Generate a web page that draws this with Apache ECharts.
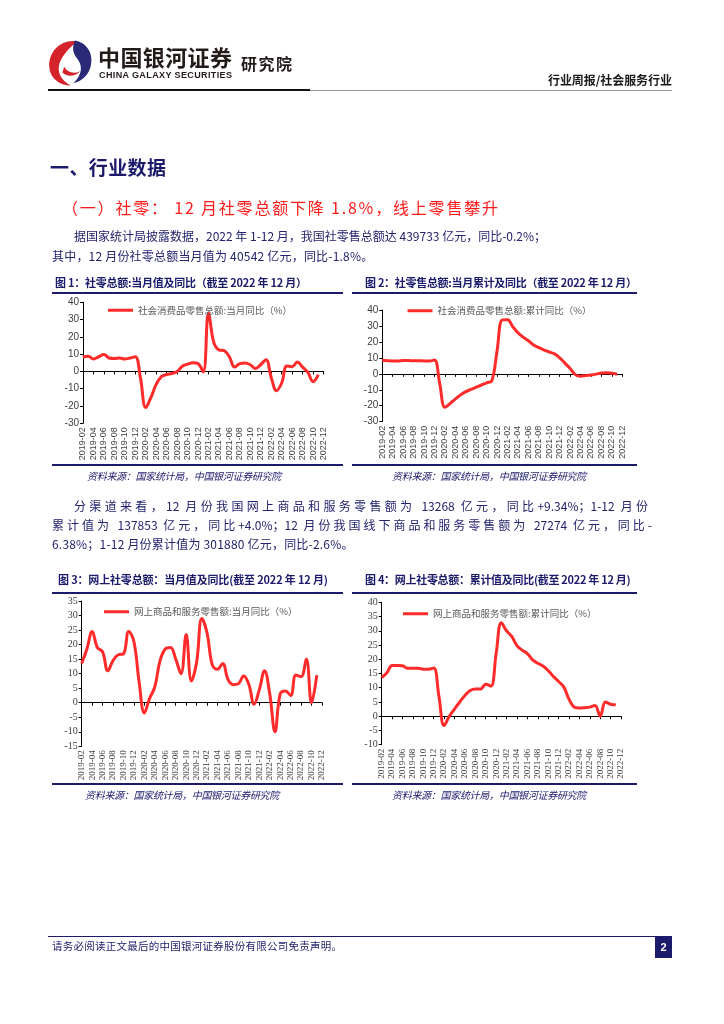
<!DOCTYPE html>
<html><head><meta charset="utf-8">
<script src="https://cdn.jsdelivr.net/npm/echarts/dist/echarts.min.js"></script>
<style>
html,body{margin:0;padding:0;background:#fff;}
#page{position:relative;width:724px;height:1024px;overflow:hidden;background:#fff;font-family:"Noto Sans CJK SC","Noto Sans",sans-serif;}
#chart{position:absolute;left:0;top:0;width:724px;height:1024px;}
.t{position:absolute;white-space:nowrap;line-height:1;z-index:2;}
.j{position:absolute;white-space:nowrap;line-height:1;z-index:2;text-align:justify;text-align-last:justify;}
.ln{position:absolute;z-index:2;}
.navy{color:#1b1a6b;}
.cap{font-size:11px;font-weight:bold;color:#1b1a6b;}
.src{font-size:10px;font-style:italic;color:#1b1a6b;}
.body{font-size:12px;color:#23236e;}
</style>
</head><body>
<div id="page">
  <div id="chart"></div>

  <!-- header -->
  <svg class="ln" style="left:46px;top:39px" width="48" height="48" viewBox="0 0 100 100">
    <path d="M64 5 C32 0 4 26 7 60 C9 82 28 97 52 97 C33 88 22 70 28 51 C34 33 48 20 64 5 Z" fill="#d4232b"/>
    <path d="M60 3 C84 7 98 28 94 52 C91 74 75 88 57 92 C70 80 77 64 70 49 C64 36 50 29 60 3 Z" fill="#2a2a78"/>
    <path d="M38 58 C44 70 60 74 72 66 C62 78 44 80 34 70 Z" fill="#d4232b"/>
  </svg>
  <div class="t" style="left:98px;top:45px;font-size:22px;font-weight:bold;color:#231a1a" data-w="134">中国银河证券</div>
  <div class="t" style="left:99px;top:71px;font-size:9px;font-weight:bold;color:#231a1a;font-family:'Liberation Sans',Arial,sans-serif" data-w="133">CHINA GALAXY SECURITIES</div>
  <div class="t" style="left:241px;top:55px;font-size:16px;font-weight:bold;color:#231a1a" data-w="51">研究院</div>
  <div class="t" style="left:548px;top:74px;font-size:12px;font-weight:bold;color:#1a1a1a" data-w="124">行业周报/社会服务行业</div>
  <div class="ln" style="left:48px;top:89px;width:262px;height:2px;background:#111"></div>
  <div class="ln" style="left:310px;top:90px;width:362px;height:1px;background:#9a9a9a"></div>

  <!-- section titles -->
  <div class="t navy" style="left:50px;top:157px;font-size:19px;font-weight:bold" data-w="116">一、行业数据</div>
  <div class="t" style="left:62px;top:199px;font-size:16px;color:#ff1a1a" data-w="436">（一）社零： 12 月社零总额下降 1.8%，线上零售攀升</div>

  <div class="t body" style="left:74px;top:230px" data-w="472">据国家统计局披露数据，2022 年 1-12 月，我国社零售总额达 439733 亿元，同比-0.2%；</div>
  <div class="t body" style="left:52px;top:250px;letter-spacing:0.2px">其中，12 月份社零总额当月值为 40542 亿元，同比-1.8%。</div>

  <!-- chart 1/2 captions -->
  <div class="t cap" style="left:55px;top:277px" data-w="252">图 1：社零总额:当月值及同比（截至 2022 年 12 月）</div>
  <div class="t cap" style="left:365px;top:277px" data-w="262">图 2：社零售总额:当月累计及同比（截至 2022 年 12 月）</div>
  <div class="ln" style="left:52px;top:292px;width:291px;height:2px;background:#1b1a6b"></div>
  <div class="ln" style="left:352px;top:292px;width:285px;height:2px;background:#1b1a6b"></div>
  <div class="ln" style="left:52px;top:464px;width:291px;height:2px;background:#1b1a6b"></div>
  <div class="ln" style="left:352px;top:464px;width:285px;height:2px;background:#1b1a6b"></div>
  <div class="t src" style="left:87px;top:471px" data-w="193">资料来源：国家统计局，中国银河证券研究院</div>
  <div class="t src" style="left:392px;top:471px" data-w="193">资料来源：国家统计局，中国银河证券研究院</div>

  <div class="j body" style="left:74px;top:500px;width:574px">分渠道来看，12 月份我国网上商品和服务零售额为 13268 亿元，同比+9.34%；1-12 月份</div>
  <div class="j body" style="left:52px;top:519px;width:600px">累计值为 137853 亿元，同比+4.0%；12 月份我国线下商品和服务零售额为 27274 亿元，同比-</div>
  <div class="t body" style="left:52px;top:538px;letter-spacing:0.2px">6.38%；1-12 月份累计值为 301880 亿元，同比-2.6%。</div>

  <!-- chart 3/4 captions -->
  <div class="t cap" style="left:58px;top:574px" data-w="270">图 3：网上社零总额：当月值及同比(截至 2022 年 12 月)</div>
  <div class="t cap" style="left:365px;top:574px" data-w="263">图 4：网上社零总额：累计值及同比(截至 2022 年 12 月)</div>
  <div class="ln" style="left:52px;top:592px;width:291px;height:2px;background:#1b1a6b"></div>
  <div class="ln" style="left:352px;top:592px;width:285px;height:2px;background:#1b1a6b"></div>
  <div class="ln" style="left:52px;top:783px;width:291px;height:2px;background:#1b1a6b"></div>
  <div class="ln" style="left:352px;top:783px;width:285px;height:2px;background:#1b1a6b"></div>
  <div class="t src" style="left:85px;top:790px" data-w="193">资料来源：国家统计局，中国银河证券研究院</div>
  <div class="t src" style="left:392px;top:790px" data-w="193">资料来源：国家统计局，中国银河证券研究院</div>

  <!-- footer -->
  <div class="ln" style="left:48px;top:936px;width:624px;height:1px;background:#1b1a6b"></div>
  <div class="t" style="left:52px;top:941px;font-size:10.5px;color:#23236e" data-w="290">请务必阅读正文最后的中国银河证券股份有限公司免责声明。</div>
  <div class="ln" style="left:655px;top:937px;width:17px;height:21px;background:#1b1a6b;color:#fff;font-size:11px;font-family:'Liberation Sans',Arial,sans-serif;font-weight:bold;text-align:center;line-height:21px">2</div>
</div>

<script>
// ---------- data ----------
const months = [
  '2019-02','2019-03','2019-04','2019-05','2019-06','2019-07','2019-08','2019-09','2019-10','2019-11','2019-12',
  '2020-01','2020-02','2020-03','2020-04','2020-05','2020-06','2020-07','2020-08','2020-09','2020-10','2020-11','2020-12',
  '2021-01','2021-02','2021-03','2021-04','2021-05','2021-06','2021-07','2021-08','2021-09','2021-10','2021-11','2021-12',
  '2022-01','2022-02','2022-03','2022-04','2022-05','2022-06','2022-07','2022-08','2022-09','2022-10','2022-11','2022-12'
];
const retailMonthlyName = '社会消费品零售总额:当月同比（%）';
const retailMonthlyYoY = [8.3, 8.8, 7.2, 8.5, 9.8, 7.8, 7.5, 7.8, 7.2, 7.8, 8.5, -4, -20.9, -15, -7.5, -3, -1.8, -1.2, 0, 3, 4.2, 5, 4.5, -0.3, 33.8, 17, 12.5, 12, 8.5, 2.5, 4.5, 4.9, 3.9, 1.7, 4, 6.7, -3.5, -11.1, -6.7, 3.1, 2.7, 5.4, 2.5, -0.5, -5.9, -1.8];
const retailCumName = '社会消费品零售总额:累计同比（%）';
const retailCumYoY = [8.5, 8.2, 8.0, 8.1, 8.4, 8.3, 8.2, 8.2, 8.1, 8.0, 8.6, -6, -21, -18.5, -15.8, -13.2, -11.2, -9.8, -8.4, -7, -5.6, -4.3, 14.5, 33.8, 33.9, 29.6, 25.7, 23.0, 20.7, 18.1, 16.4, 14.9, 13.7, 12.5, 10, 6.7, 3.3, -0.5, -1.5, -1.0, -0.7, -0.2, 0.5, 0.7, 0.3, -0.2];
const onlineMonthlyName = '网上商品和服务零售额:当月同比（%）';
const onlineMonthlyYoY = [13.5, 18.5, 24.5, 19, 17.5, 11, 14.5, 16.5, 16.8, 24.5, 21, 7, -3.5, 1.5, 5.5, 14.5, 18.5, 19, 15, 10, 23.5, 7.5, 14, 29, 24, 13, 11.5, 13.5, 8, 6.2, 6.5, 9.2, 6.3, -0.5, 4.5, 11, 3, -10, 3, 4, 2.5, 9.5, 9, 15, 0, 9.5];
const onlineCumName = '网上商品和服务零售额:累计同比（%）';
const onlineCumYoY = [13.6, 15.3, 17.8, 17.8, 17.7, 16.8, 16.8, 16.8, 16.5, 16.5, 16.9, 7, -3.3, 0, 2.5, 5, 7.3, 9, 9.6, 9.6, 11.2, 10.6, 22, 32.8, 30, 28, 24.8, 23.2, 22, 19.8, 18.6, 17.6, 16, 14, 12.2, 10.3, 6, 3.2, 2.9, 3, 3.2, 3.8, 0, 5, 4.2, 4];
const yTicks1 = [-30, 40, 10];
const yTicks2 = [-30, 40, 10];
const yTicks3 = [-15, 35, 5];
const yTicks4 = [-10, 40, 5];

// ---------- layout ----------
const panels = [
  {name: retailMonthlyName, data: retailMonthlyYoY, y: yTicks1, grid:{left:83, top:302.3, width:240.5, height:121}, legend:{left:108, top:305.5}, font:'Liberation Sans'},
  {name: retailCumName, data: retailCumYoY, y: yTicks2, grid:{left:382.3, top:310, width:240, height:111.7}, legend:{left:407.5, top:306}, font:'Liberation Sans'},
  {name: onlineMonthlyName, data: onlineMonthlyYoY, y: yTicks3, grid:{left:81.7, top:601, width:240.3, height:145.3}, legend:{left:104, top:607}, font:'Liberation Serif'},
  {name: onlineCumName, data: onlineCumYoY, y: yTicks4, grid:{left:381.7, top:602.3, width:239.3, height:142.4}, legend:{left:403, top:609}, font:'Liberation Serif'}
];
const RED = '#ff2b2b';
const option = {animation:false, grid:[], xAxis:[], yAxis:[], series:[], legend:[]};
panels.forEach((p, k) => {
  option.grid.push(Object.assign({containLabel:false}, p.grid));
  option.xAxis.push({
    type:'category', gridIndex:k, data:months, boundaryGap:false, position:'bottom',
    axisLine:{show:false, onZero:false}, axisTick:{show:false}, splitLine:{show:false},
    axisLabel:{rotate:90, interval:1, fontSize:9, color:'#404040', margin:4, fontFamily:p.font}
  });
  option.xAxis.push({
    type:'category', gridIndex:k, data:months, boundaryGap:false, position:'top',
    axisLine:{show:true, onZero:true, lineStyle:{color:'#000', width:1}},
    axisTick:{show:true, inside:true, interval:1, length:3, lineStyle:{color:'#000', width:1}},
    axisLabel:{show:false}, splitLine:{show:false}
  });
  option.yAxis.push({
    type:'value', gridIndex:k, min:p.y[0], max:p.y[1], interval:p.y[2],
    axisLine:{show:true, lineStyle:{color:'#000', width:1}},
    axisTick:{show:true, length:3, lineStyle:{color:'#000', width:1}},
    splitLine:{show:false},
    axisLabel:{fontSize:10, color:'#404040', margin:4, fontFamily:p.font}
  });
  option.series.push({
    type:'line', name:p.name, xAxisIndex:2*k, yAxisIndex:k, data:p.data,
    smooth:0.4, symbol:'none', lineStyle:{color:RED, width:3}, itemStyle:{color:RED}
  });
  option.legend.push({
    data:[p.name], left:p.legend.left, top:p.legend.top, icon:'rect', itemWidth:25, itemHeight:3,
    padding:0, selectedMode:false,
    textStyle:{fontSize:9.5, color:'#595959', fontFamily:'Noto Sans CJK SC'}
  });
});
const chart = echarts.init(document.getElementById('chart'));
chart.setOption(option);

// fit text widths
function fit(){
  document.querySelectorAll('[data-w]').forEach(el => {
    const w = +el.dataset.w;
    el.style.letterSpacing = '0px';
    const nat = el.getBoundingClientRect().width;
    const n = Array.from(el.textContent).length;
    if (n > 1) el.style.letterSpacing = Math.max(-0.3, (w - nat) / (n - 1)) + 'px';
  });
}
fit();
if (document.fonts && document.fonts.ready) document.fonts.ready.then(fit);
</script>
</body></html>
